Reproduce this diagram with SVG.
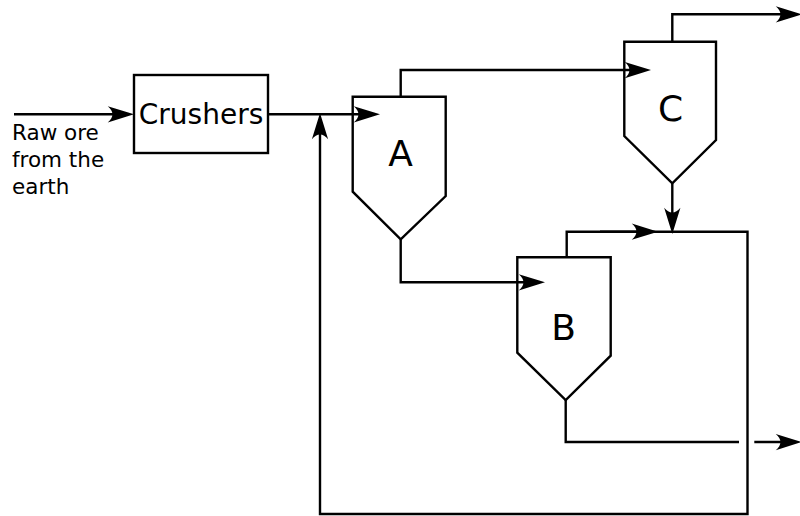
<svg xmlns="http://www.w3.org/2000/svg" width="800" height="516" viewBox="0 0 800 516">
<style>
.ln{fill:none;stroke:#000;stroke-width:2.4;stroke-linejoin:miter}
.arr{marker-end:url(#ah)}
.shape{fill:none;stroke:#000;stroke-width:2.4;stroke-linejoin:miter}
.lbl{font-family:"DejaVu Sans",sans-serif;fill:#000}
.big{font-size:36px;text-anchor:middle}
.src{font-size:21.5px}
</style>
<defs>
<marker id="ah" markerUnits="userSpaceOnUse" markerWidth="30" markerHeight="20" viewBox="-14 -8 24 16" refX="0" refY="0" orient="auto" overflow="visible">
<path d="M8,0 L-13,-6.5 C-8,-2.5 -8,2.5 -13,6.5 Z" fill="#000"/>
</marker>
</defs>
<rect width="800" height="516" fill="#fff"/>
<g id="connectors">
<path class="ln arr" d="M14,114.3 H124"/>
<path class="ln arr" d="M268,114.3 H370"/>
<path class="ln" d="M320,123 V514 H747.5 V231.7 H566.7 V257.3"/>
<path class="ln arr" d="M320,130 V123"/>
<path class="ln arr" d="M600,231.7 H648"/>
<path class="ln arr" d="M400.7,96.7 V70 H641"/>
<path class="ln arr" d="M672.3,41.7 V14.3 H792"/>
<path class="ln arr" d="M672.3,183.3 V224"/>
<path class="ln arr" d="M400.7,239.3 V282.3 H535"/>
<path class="ln" d="M565.7,400 V442 H739"/>
<path class="ln arr" d="M754.3,442 H792"/>
</g>
<g id="crushers">
<rect class="shape" x="134" y="75" width="134" height="78"/>
<text class="lbl" x="201" y="124.3" style="font-size:28px" text-anchor="middle">Crushers</text>
</g>
<g id="vessel-a">
<polygon class="shape" points="352.7,96.7 445.7,96.7 445.7,196 400.7,239.3 352.7,191.7"/>
<text class="lbl big" x="400.5" y="165.7">A</text>
</g>
<g id="vessel-c">
<polygon class="shape" points="624.3,41.7 716,41.7 716,140 672.3,183.3 624.3,136"/>
<text class="lbl big" x="670.5" y="121">C</text>
</g>
<g id="vessel-b">
<polygon class="shape" points="517.3,257.3 610.7,257.3 610.7,355.7 565.7,400 517.3,352.7"/>
<text class="lbl big" x="563.5" y="340">B</text>
</g>
<g id="source-label">
<text class="lbl src"><tspan class="src" x="12" y="140">Raw ore</tspan><tspan class="src" x="12" y="167">from the</tspan><tspan class="src" x="12" y="194">earth</tspan></text>
</g>
</svg>
